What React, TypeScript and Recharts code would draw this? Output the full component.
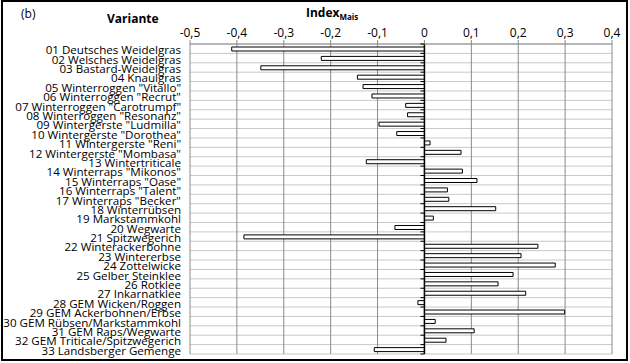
import React from "react";
import {
  BarChart,
  Bar,
  XAxis,
  YAxis,
  CartesianGrid,
  ReferenceLine,
} from "recharts";

const categories = [
  "01 Deutsches Weidelgras",
  "02 Welsches Weidelgras",
  "03 Bastard-Weidelgras",
  "04 Knaulgras",
  '05 Winterroggen "Vitallo"',
  '06 Winterroggen "Recrut"',
  '07 Winterroggen "Carotrumpf"',
  '08 Winterroggen "Resonanz"',
  '09 Wintergerste "Ludmilla"',
  '10 Wintergerste "Dorothea"',
  '11 Wintergerste "Reni"',
  '12 Wintergerste "Mombasa"',
  "13 Wintertriticale",
  '14 Winterraps "Mikonos"',
  '15 Winterraps "Oase"',
  '16 Winterraps "Talent"',
  '17 Winterraps "Becker"',
  "18 Winterrübsen",
  "19 Markstammkohl",
  "20 Wegwarte",
  "21 Spitzwegerich",
  "22 Winterackerbohne",
  "23 Wintererbse",
  "24 Zottelwicke",
  "25 Gelber Steinklee",
  "26 Rotklee",
  "27 Inkarnatklee",
  "28 GEM Wicken/Roggen",
  "29 GEM Ackerbohnen/Erbse",
  "30 GEM Rübsen/Markstammkohl",
  "31 GEM Raps/Wegwarte",
  "32 GEM Triticale/Spitzwegerich",
  "33 Landsberger Gemenge",
];

const indexMais = [
  -0.411, -0.22, -0.349, -0.143, -0.131, -0.112, -0.04, -0.036, -0.097, -0.059,
  0.012, 0.078, -0.124, 0.081, 0.112, 0.049, 0.052, 0.152, 0.019, -0.063,
  -0.385, 0.242, 0.206, 0.279, 0.189, 0.157, 0.216, -0.014, 0.299, 0.023,
  0.106, 0.046, -0.107,
];

const xTicks = [-0.5, -0.4, -0.3, -0.2, -0.1, 0, 0.1, 0.2, 0.3, 0.4];

const data = categories.map((name, i) => ({ name, value: indexMais[i] }));

const FONT = "'Open Sans', sans-serif";
const PLOT_LEFT = 190;
const PLOT_RIGHT = 612;
const PLOT_TOP = 44;
const PLOT_BOTTOM = 354;
const BAND = (PLOT_BOTTOM - PLOT_TOP) / categories.length;
const ZERO_X = PLOT_LEFT + ((0 - xTicks[0]) / (xTicks[xTicks.length - 1] - xTicks[0])) * (PLOT_RIGHT - PLOT_LEFT);

const fmt = (v: number) => String(v).replace(".", ",");

function CategoryTick(props: any) {
  const { y, payload, index } = props;
  const top = y - BAND / 2;
  return (
    <g>
      <text
        x={181}
        y={y}
        dy={5.5}
        textAnchor="end"
        fontSize={11.6}
        fontFamily={FONT}
        fill="#000"
      >
        {payload.value}
      </text>
      <line x1={ZERO_X - 4} x2={ZERO_X} y1={top} y2={top} stroke="#000" />
      {index === categories.length - 1 && (
        <line x1={ZERO_X - 4} x2={ZERO_X} y1={top + BAND} y2={top + BAND} stroke="#000" />
      )}
    </g>
  );
}

export default function App() {
  return (
    <div
      style={{
        position: "fixed",
        left: 0,
        top: 0,
        width: 630,
        height: 363,
        background: "#fff",
      }}
    >
      <BarChart
        width={630}
        height={363}
        data={data}
        layout="vertical"
        margin={{ top: PLOT_TOP - 20, right: 630 - PLOT_RIGHT, bottom: 363 - PLOT_BOTTOM, left: 0 }}
        barSize={4}
      >
        <CartesianGrid
          vertical={false}
          stroke="#c8c8c8"
          horizontalCoordinatesGenerator={({ offset }: any) =>
            categories.map((_, i) => offset.top + (i * offset.height) / categories.length).concat(offset.top + offset.height)
          }
        />
        <CartesianGrid horizontal={false} stroke="#8a8a8a" />
        <XAxis
          type="number"
          orientation="top"
          domain={[xTicks[0], xTicks[xTicks.length - 1]]}
          ticks={xTicks}
          tickFormatter={fmt}
          height={20}
          tickSize={4}
          tickMargin={3}
          axisLine={{ stroke: "#8a8a8a" }}
          tickLine={{ stroke: "#8a8a8a" }}
          tick={{ fontSize: 12, fontFamily: FONT, fill: "#000" }}
          interval={0}
        />
        <YAxis
          type="category"
          dataKey="name"
          width={PLOT_LEFT}
          axisLine={false}
          tickLine={false}
          interval={0}
          tick={<CategoryTick />}
        />
        <Bar dataKey="value" fill="#fff" stroke="#000" strokeWidth={1} isAnimationActive={false} />
        <ReferenceLine x={0} stroke="#000" strokeWidth={1.5} />
      </BarChart>
      <div
        style={{
          position: "absolute",
          left: 1,
          top: 0,
          width: 627,
          height: 361,
          border: "2px solid #000",
          boxSizing: "border-box",
          pointerEvents: "none",
        }}
      />
      <div style={{ position: "absolute", left: 21, top: 5, fontFamily: FONT, fontSize: 12 }}>(b)</div>
      <div style={{ position: "absolute", left: 107, top: 10, fontFamily: FONT, fontSize: 12, fontWeight: "bold" }}>
        Variante
      </div>
      <div style={{ position: "absolute", left: 306, top: 4, fontFamily: FONT, fontSize: 12, fontWeight: "bold" }}>
        Index<sub style={{ fontSize: 8 }}>Mais</sub>
      </div>
    </div>
  );
}
